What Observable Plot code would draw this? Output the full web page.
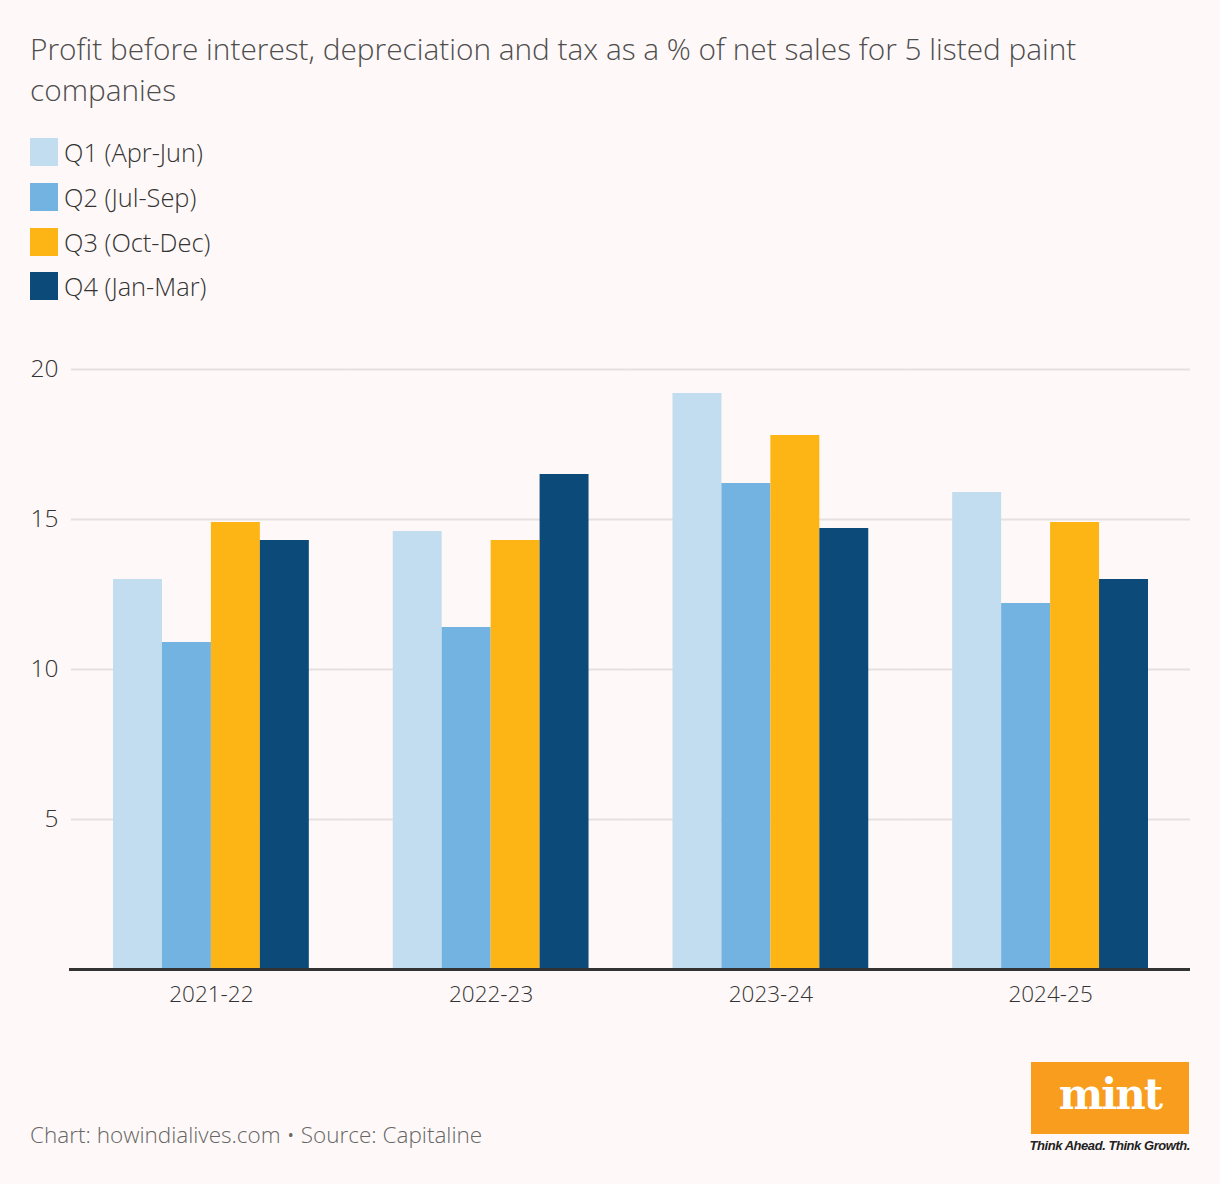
<!DOCTYPE html>
<html><head><meta charset="utf-8">
<script src="https://cdn.jsdelivr.net/npm/d3@7"></script>
<script src="https://cdn.jsdelivr.net/npm/@observablehq/plot@0.6"></script>
<style>
html,body{margin:0;padding:0;background:#fef9f8;}
#wrap{position:relative;width:1220px;height:1184px;background:#fef9f8;font-family:"Open Sans","Noto Sans",sans-serif;overflow:hidden;}
#title{position:absolute;left:30px;top:28px;width:1100px;font-size:29.8px;font-weight:300;line-height:41px;color:#4d4d4d;}
#legend{position:absolute;left:30px;top:138px;}
.row{display:flex;align-items:center;height:28px;margin-bottom:16.8px;font-size:25.4px;color:#333;font-weight:300;}
.sw{width:28px;height:28px;margin-right:6px;flex:none;}
#chart{position:absolute;left:0;top:340px;}
#footer{position:absolute;left:30px;top:1120px;font-size:22.5px;font-weight:300;color:#666;line-height:30px;}
#logo{position:absolute;left:1031px;top:1062px;width:158px;height:72px;background:#f89d1e;color:#fff;font-family:"DejaVu Serif",serif;font-weight:bold;font-size:42px;letter-spacing:-2px;text-align:center;line-height:66px;}
#tag{position:absolute;right:30px;top:1138px;font-family:"Liberation Sans",sans-serif;font-style:italic;font-weight:bold;font-size:13px;color:#222;letter-spacing:-0.45px;}
</style></head>
<body>
<div id="wrap">
  <div id="title">Profit before interest, depreciation and tax as a % of net sales for 5 listed paint companies</div>
  <div id="legend"></div>
  <div id="chart"></div>
  <div id="footer">Chart: howindialives.com • Source: Capitaline</div>
  <div id="logo">mint</div>
  <div id="tag">Think Ahead. Think Growth.</div>
</div>
<script>
const years = ["2021-22", "2022-23", "2023-24", "2024-25"];
const quarters = ["Q1 (Apr-Jun)", "Q2 (Jul-Sep)", "Q3 (Oct-Dec)", "Q4 (Jan-Mar)"];
const q1 = [13.0, 14.6, 19.2, 15.9];
const q2 = [10.9, 11.4, 16.2, 12.2];
const q3 = [14.9, 14.3, 17.8, 14.9];
const q4 = [14.3, 16.5, 14.7, 13.0];
const colors = ["#c2ddef", "#72b3e2", "#fdb515", "#0c4a7a"];
const yTicks = [5, 10, 15, 20];

const series = [q1, q2, q3, q4];
const data = years.flatMap((yr, i) => series.map((s, j) => ({year: yr, quarter: quarters[j], value: s[i]})));

const legend = document.getElementById("legend");
quarters.forEach((q, j) => {
  const row = document.createElement("div");
  row.className = "row";
  const sw = document.createElement("div");
  sw.className = "sw";
  sw.style.background = colors[j];
  const t = document.createElement("span");
  t.textContent = q;
  row.appendChild(sw); row.appendChild(t);
  legend.appendChild(row);
});

const chart = Plot.plot({
  width: 1220,
  height: 679,
  marginTop: 29,
  marginBottom: 50,
  marginLeft: 113,
  marginRight: 72,
  style: {background: "transparent", fontFamily: "'Open Sans','Noto Sans',sans-serif", fontSize: "22px", color: "#333", fontWeight: 300},
  fx: {domain: years, paddingInner: 0.3, paddingOuter: 0, label: null, round: false},
  x: {domain: quarters, padding: 0, axis: null, round: false},
  y: {domain: [0, 20], label: null},
  color: {domain: quarters, range: colors},
  marks: [
    Plot.ruleY(yTicks, {stroke: "#e6e1e0", strokeWidth: 2, insetLeft: -42, insetRight: -42}),
    Plot.barY(data, {fx: "year", x: "quarter", y: "value", fill: "quarter"}),
    Plot.ruleY([0], {stroke: "#333", strokeWidth: 3, insetLeft: -44, insetRight: -42}),
    Plot.axisY(yTicks, {tickSize: 0, tickPadding: 55, label: null, fontSize: 24.5}),
    Plot.axisFx({anchor: "bottom", tickSize: 0, tickPadding: 17, label: null, fontSize: 22.5})
  ]
});
document.getElementById("chart").appendChild(chart);
</script>
</body></html>
